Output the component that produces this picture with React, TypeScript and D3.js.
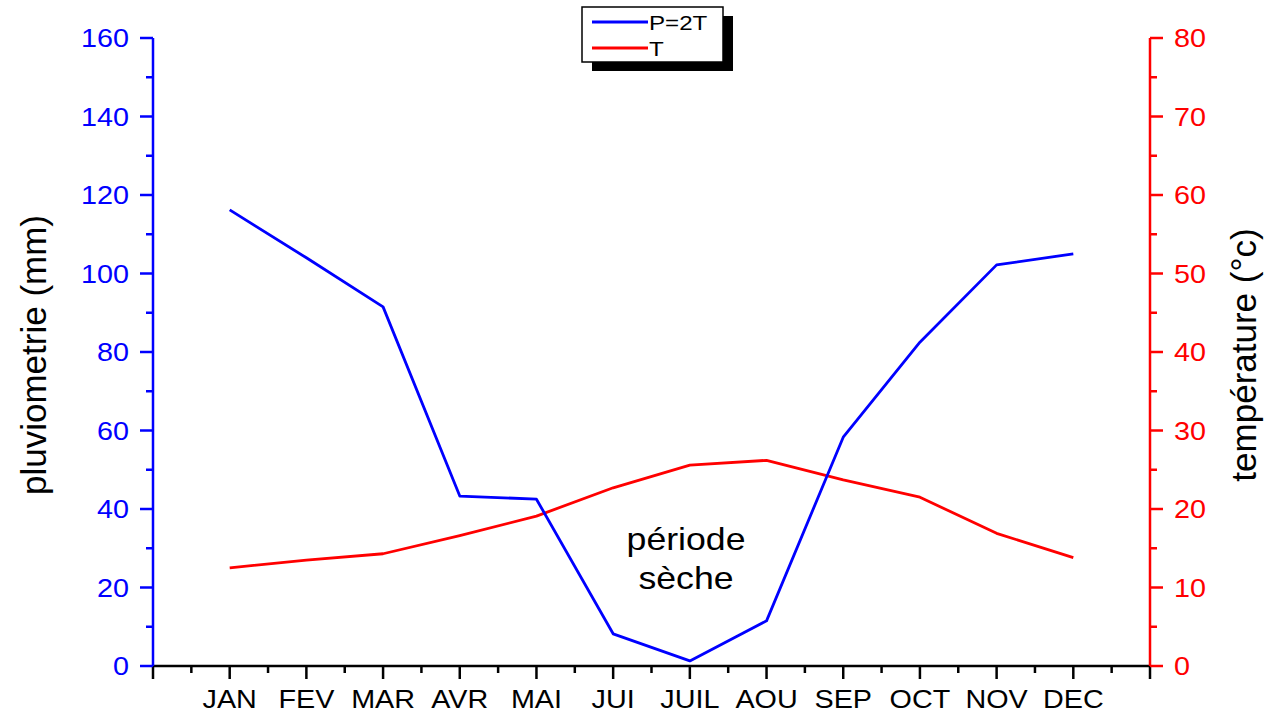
import { useEffect, useRef } from "react";
import * as d3 from "d3";

// monthly data
const months = ["JAN", "FEV", "MAR", "AVR", "MAI", "JUI", "JUIL", "AOU", "SEP", "OCT", "NOV", "DEC"];
const pluvio = [116.2, 104, 91.5, 43.3, 42.5, 8.2, 1.3, 11.5, 58.3, 82.5, 102.2, 105];
const temperature = [12.5, 13.5, 14.3, 16.6, 19.1, 22.7, 25.6, 26.2, 23.7, 21.5, 16.9, 13.8];

const leftTicks = [0, 20, 40, 60, 80, 100, 120, 140, 160];
const rightTicks = [0, 10, 20, 30, 40, 50, 60, 70, 80];

const FONT = "'Liberation Sans', Arial, sans-serif";
const STRETCH = 1.15;

function App() {
  const ref = useRef<SVGSVGElement>(null);

  useEffect(() => {
    document.body.style.margin = "0";
    drawChart();
  }, []);

  function drawChart() {
    const width = 1272;
    const height = 715;
    const margin = { top: 38, right: 122, bottom: 49, left: 153 };
    const w = width - margin.left - margin.right;
    const h = height - margin.top - margin.bottom;

    const svg = d3.select(ref.current);
    svg.selectAll("*").remove();

    const g = svg.append("g").attr("transform", `translate(${margin.left},${margin.top})`);

    const x = d3.scaleLinear().domain([0, 13]).range([0, w]);
    const yP = d3.scaleLinear().domain([0, 160]).range([h, 0]);
    const yT = d3.scaleLinear().domain([0, 80]).range([h, 0]);

    // stretched text helper (reference text is horizontally wide)
    const label = (
      parent: any,
      tx: number,
      ty: number,
      text: string,
      size: number,
      color: string,
      anchor: string
    ) =>
      parent
        .append("text")
        .attr("transform", `translate(${tx},${ty}) scale(${STRETCH},1)`)
        .attr("text-anchor", anchor)
        .attr("font-family", FONT)
        .attr("font-size", size)
        .attr("fill", color)
        .text(text);

    // x axis
    const xAxis = g.append("g").attr("transform", `translate(0,${h})`);
    xAxis
      .append("line")
      .attr("x1", 0)
      .attr("x2", w)
      .attr("stroke", "#000")
      .attr("stroke-width", 2.5);
    d3.range(0, 13.01, 0.5).forEach((v) => {
      const major = Number.isInteger(v);
      xAxis
        .append("line")
        .attr("x1", x(v))
        .attr("x2", x(v))
        .attr("y1", 0)
        .attr("y2", major ? 13 : 7)
        .attr("stroke", "#000")
        .attr("stroke-width", 2.5);
    });
    months.forEach((m, i) => {
      label(xAxis, x(i + 1), 42, m, 25, "#000", "middle");
    });

    // left y axis (blue)
    const left = g.append("g");
    left
      .append("line")
      .attr("y1", 0)
      .attr("y2", h)
      .attr("stroke", "#0000ff")
      .attr("stroke-width", 2.5);
    d3.range(0, 160.01, 10).forEach((v) => {
      const major = v % 20 === 0;
      left
        .append("line")
        .attr("x1", 0)
        .attr("x2", major ? -13 : -7)
        .attr("y1", yP(v))
        .attr("y2", yP(v))
        .attr("stroke", "#0000ff")
        .attr("stroke-width", 2.5);
    });
    leftTicks.forEach((v) => {
      label(left, -24, yP(v) + 9, String(v), 25, "#0000ff", "end");
    });

    // right y axis (red)
    const right = g.append("g").attr("transform", `translate(${w},0)`);
    right
      .append("line")
      .attr("y1", 0)
      .attr("y2", h)
      .attr("stroke", "#ff0000")
      .attr("stroke-width", 2.5);
    d3.range(0, 80.01, 5).forEach((v) => {
      const major = v % 10 === 0;
      right
        .append("line")
        .attr("x1", 0)
        .attr("x2", major ? 13 : 7)
        .attr("y1", yT(v))
        .attr("y2", yT(v))
        .attr("stroke", "#ff0000")
        .attr("stroke-width", 2.5);
    });
    rightTicks.forEach((v) => {
      label(right, 24, yT(v) + 9, String(v), 25, "#ff0000", "start");
    });

    // axis titles
    svg
      .append("text")
      .attr("transform", `translate(46,${margin.top + h / 2 + 3}) rotate(-90)`)
      .attr("text-anchor", "middle")
      .attr("font-family", FONT)
      .attr("font-size", 35)
      .attr("fill", "#000")
      .text("pluviometrie (mm)");
    svg
      .append("text")
      .attr("transform", `translate(1256,${margin.top + h / 2 + 3}) rotate(-90)`)
      .attr("text-anchor", "middle")
      .attr("font-family", FONT)
      .attr("font-size", 35)
      .attr("fill", "#000")
      .text("température (°c)");

    // lines
    const lineP = d3
      .line<number>()
      .x((d, i) => x(i + 1))
      .y((d) => yP(d));
    const lineT = d3
      .line<number>()
      .x((d, i) => x(i + 1))
      .y((d) => yT(d));

    g.append("path")
      .datum(temperature)
      .attr("fill", "none")
      .attr("stroke", "#ff0000")
      .attr("stroke-width", 2.8)
      .attr("stroke-linejoin", "round")
      .attr("d", lineT);

    g.append("path")
      .datum(pluvio)
      .attr("fill", "none")
      .attr("stroke", "#0000ff")
      .attr("stroke-width", 2.8)
      .attr("stroke-linejoin", "round")
      .attr("d", lineP);

    // annotation
    label(g, x(6.95), yP(29.5), "période", 31, "#000", "middle");
    label(g, x(6.95), yP(19.6), "sèche", 31, "#000", "middle");

    // legend
    const lg = svg.append("g").attr("transform", "translate(582,7)");
    lg.append("rect")
      .attr("x", 10)
      .attr("y", 9)
      .attr("width", 141)
      .attr("height", 55)
      .attr("fill", "#000");
    lg.append("rect")
      .attr("x", 0)
      .attr("y", 0)
      .attr("width", 141)
      .attr("height", 55)
      .attr("fill", "#fff")
      .attr("stroke", "#000")
      .attr("stroke-width", 1.5);
    const entries = [
      { name: "P=2T", color: "#0000ff" },
      { name: "T", color: "#ff0000" },
    ];
    entries.forEach((e, i) => {
      const yy = 15 + i * 26;
      lg.append("line")
        .attr("x1", 10)
        .attr("x2", 66)
        .attr("y1", yy)
        .attr("y2", yy)
        .attr("stroke", e.color)
        .attr("stroke-width", 2.8);
      label(lg, 67, yy + 8, e.name, 21, "#000", "start");
    });
  }

  return (
    <div style={{ width: 1272, height: 715 }}>
      <svg ref={ref} width={1272} height={715} style={{ display: "block", background: "#fff" }} />
    </div>
  );
}

export default App;
